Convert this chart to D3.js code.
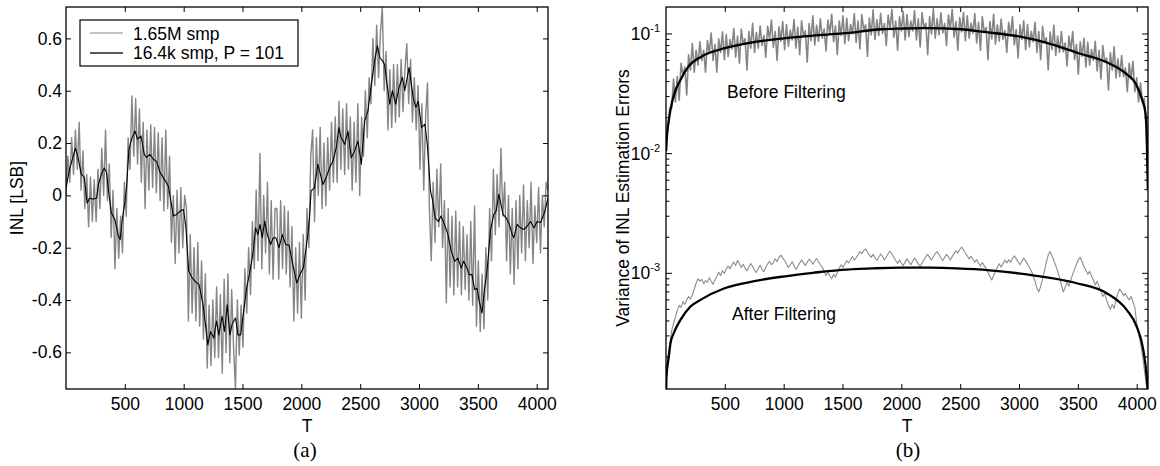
<!DOCTYPE html>
<html><head><meta charset="utf-8">
<script src="https://cdn.jsdelivr.net/npm/d3@7"></script>
<style>
body{margin:0;background:#fff;}
svg text{font-family:"Liberation Sans",Arial,sans-serif;fill:#000;}
</style></head><body>
<svg id="c" width="1160" height="466"></svg>
<script>
// ---------- data ----------
const tickT = [500,1000,1500,2000,2500,3000,3500,4000];
const inlTicks = [-0.6,-0.4,-0.2,0,0.2,0.4,0.6];
const inlTickLabels = ["-0.6","-0.4","-0.2","0","0.2","0.4","0.6"];
const varMajorTicks = [1e-3,1e-2,1e-1];
const varTickExp = ["-3","-2","-1"];
const legendLabels = ["1.65M smp","16.4k smp, P = 101"];
const panelCaptions = ["(a)","(b)"];
const sampleStep = 16; // raw curves sampled every 16 codes, T = 0..4096

// (a) INL, 1.65M samples (gray)
const inlRaw = [
 0.00,0.15,0.05,0.22,0.08,0.25,0.10,0.28,0.02,0.17,-0.05,0.08,-0.12,0.07,-0.10,0.06,
 -0.10,0.10,-0.05,0.18,0.00,0.25,-0.02,0.12,-0.16,0.02,-0.28,-0.05,-0.24,-0.08,-0.22,0.05,
 -0.08,0.22,0.10,0.38,0.15,0.37,0.12,0.33,0.05,0.28,-0.05,0.25,0.02,0.27,0.03,0.26,
 0.01,0.24,-0.02,0.22,-0.06,0.25,-0.05,0.15,-0.18,0.00,-0.26,0.02,-0.22,0.03,-0.20,0.00,
 -0.05,-0.48,-0.15,-0.45,-0.20,-0.48,-0.18,-0.50,-0.25,-0.55,-0.30,-0.66,-0.42,-0.65,-0.40,-0.62,
 -0.35,-0.62,-0.38,-0.68,-0.32,-0.60,-0.30,-0.64,-0.36,-0.58,-0.74,-0.40,-0.61,-0.42,-0.58,-0.28,
 -0.45,-0.20,-0.38,-0.10,-0.28,0.02,-0.25,0.16,-0.28,0.00,-0.22,0.05,-0.30,-0.02,-0.32,-0.05,
 -0.05,-0.32,-0.02,-0.28,-0.04,-0.30,-0.06,-0.35,-0.12,-0.48,-0.20,-0.45,-0.18,-0.47,-0.15,-0.40,
 -0.05,-0.20,0.15,0.25,-0.10,0.22,0.00,0.26,-0.05,0.20,-0.04,0.22,0.02,0.28,0.05,0.30,
 0.05,0.36,0.10,0.33,0.08,0.35,0.10,0.30,0.02,0.28,0.05,0.35,0.00,0.30,0.15,0.40,
 0.22,0.45,0.35,0.60,0.42,0.65,0.45,0.62,0.72,0.40,0.55,0.25,0.48,0.26,0.50,0.28,
 0.50,0.30,0.52,0.32,0.48,0.58,0.35,0.52,0.28,0.45,0.25,0.42,0.10,0.35,0.02,0.30,
 0.43,-0.05,-0.25,0.05,-0.18,0.10,-0.12,0.12,-0.20,-0.02,-0.41,-0.05,-0.35,-0.08,-0.38,-0.06,
 -0.35,-0.10,-0.38,-0.12,-0.36,-0.15,-0.40,-0.10,-0.42,-0.04,-0.50,-0.25,-0.52,-0.30,-0.51,-0.20,
 -0.40,-0.05,-0.25,0.10,-0.15,0.08,-0.12,0.18,-0.08,0.05,-0.25,0.00,-0.30,-0.05,-0.34,-0.02,
 -0.28,0.00,-0.22,0.04,-0.25,-0.02,-0.20,0.05,-0.26,-0.04,-0.18,0.03,-0.22,0.00,-0.12,0.05,0.02
];
// (a) INL, 16.4k samples, P = 101 (black)
const inlFiltT = [0,30,80,100,130,155,180,200,230,260,275,300,325,345,360,385,415,445,460,478,
 500,515,535,557,586,608,637,665,684,713,742,770,800,827,870,912,941,970,998,1018,
 1043,1072,1100,1129,1143,1165,1185,1205,1228,1256,1279,1299,1327,1347,1370,1393,1413,1441,1461,1484,
 1506,1535,1563,1583,1597,1611,1631,1649,1668,1688,1711,1739,1762,1784,1810,1839,1867,1895,1933,1961,
 1990,2018,2052,2069,2083,2112,2140,2169,2183,2211,2240,2268,2297,2319,2339,2368,2396,2424,2453,2481,
 2510,2538,2566,2595,2623,2646,2666,2688,2708,2728,2751,2774,2802,2830,2859,2879,2916,2950,2973,2993,
 3021,3050,3070,3098,3115,3137,3166,3186,3217,3245,3274,3303,3330,3359,3379,3407,3427,3450,3473,3493,
 3512,3535,3558,3578,3606,3635,3655,3678,3697,3714,3740,3768,3791,3805,3834,3862,3891,3919,3948,3976,
 4004,4033,4070,4096];
const inlFiltV = [0.03,0.10,0.18,0.15,0.08,0.07,-0.03,-0.01,-0.015,-0.01,0.04,0.08,0.105,0.087,0.023,-0.066,-0.092,-0.156,-0.169,-0.092,
 -0.028,0.036,0.176,0.215,0.246,0.215,0.227,0.157,0.145,0.157,0.138,0.13,0.087,0.068,0.036,-0.079,-0.073,-0.06,-0.054,-0.118,
 -0.29,-0.315,-0.33,-0.34,-0.367,-0.418,-0.494,-0.571,-0.52,-0.545,-0.48,-0.533,-0.462,-0.52,-0.418,-0.533,-0.49,-0.469,-0.533,-0.533,
 -0.456,-0.354,-0.29,-0.239,-0.188,-0.124,-0.15,-0.111,-0.162,-0.098,-0.15,-0.188,-0.162,-0.162,-0.2,-0.15,-0.188,-0.19,-0.277,-0.335,
 -0.30,-0.277,-0.162,-0.086,0.017,0.03,0.119,0.068,0.042,0.068,0.106,0.131,0.183,0.259,0.22,0.195,0.246,0.144,0.17,0.208,
 0.119,0.285,0.323,0.425,0.515,0.572,0.528,0.515,0.50,0.425,0.349,0.40,0.349,0.413,0.451,0.40,0.489,0.374,0.336,0.36,
 0.259,0.272,0.195,0.016,-0.018,-0.086,-0.10,-0.079,-0.111,-0.149,-0.213,-0.252,-0.24,-0.277,-0.252,-0.277,-0.303,-0.303,-0.36,-0.355,
 -0.405,-0.449,-0.354,-0.29,-0.137,-0.073,-0.06,0.004,-0.035,-0.073,-0.086,-0.111,-0.149,-0.162,-0.111,-0.124,-0.13,-0.118,-0.10,-0.124,
 -0.10,-0.104,-0.06,-0.01];

// (b) variance before filtering, measured (gray)
const varBeforeRaw = [
 0.014,0.016,0.024,0.024,0.042,0.027,0.044,0.028,0.057,0.045,0.053,0.031,0.067,0.050,0.083,0.048,
 0.073,0.055,0.086,0.060,0.073,0.048,0.088,0.069,0.102,0.060,0.082,0.048,0.091,0.070,0.104,0.061,
 0.099,0.065,0.090,0.075,0.111,0.064,0.096,0.057,0.110,0.082,0.091,0.050,0.105,0.076,0.123,0.070,
 0.103,0.076,0.117,0.080,0.097,0.064,0.116,0.090,0.131,0.077,0.105,0.060,0.115,0.087,0.127,0.074,
 0.120,0.079,0.108,0.089,0.132,0.076,0.114,0.067,0.129,0.096,0.106,0.058,0.122,0.088,0.142,0.081,
 0.118,0.087,0.134,0.092,0.110,0.072,0.131,0.101,0.146,0.086,0.117,0.067,0.128,0.097,0.142,0.083,
 0.135,0.088,0.120,0.100,0.148,0.085,0.128,0.075,0.145,0.108,0.119,0.065,0.136,0.098,0.159,0.090,
 0.132,0.097,0.149,0.101,0.122,0.080,0.144,0.111,0.161,0.094,0.128,0.073,0.139,0.106,0.154,0.089,
 0.145,0.095,0.128,0.106,0.156,0.089,0.134,0.078,0.151,0.112,0.123,0.067,0.140,0.100,0.162,0.092,
 0.134,0.098,0.150,0.102,0.122,0.080,0.144,0.111,0.160,0.094,0.127,0.073,0.137,0.104,0.151,0.088,
 0.142,0.092,0.123,0.101,0.148,0.084,0.125,0.073,0.140,0.103,0.113,0.061,0.127,0.091,0.146,0.082,
 0.119,0.087,0.133,0.090,0.107,0.070,0.125,0.096,0.139,0.081,0.109,0.063,0.119,0.090,0.129,0.074,
 0.120,0.078,0.105,0.086,0.125,0.070,0.105,0.061,0.116,0.085,0.093,0.050,0.104,0.074,0.118,0.066,
 0.096,0.070,0.105,0.071,0.084,0.054,0.096,0.073,0.105,0.061,0.082,0.046,0.086,0.065,0.092,0.053,
 0.085,0.055,0.074,0.060,0.087,0.049,0.073,0.042,0.080,0.058,0.063,0.034,0.070,0.050,0.078,0.043,
 0.062,0.044,0.066,0.044,0.052,0.033,0.057,0.042,0.059,0.033,0.043,0.027,0.039,0.027,0.029,0.016,0.005
];
// (b) variance after filtering, measured (gray)
const varAfterRaw = [
 1.2e-4,2.0e-4,2.6e-4,3.3e-4,3.8e-4,4.3e-4,4.9e-4,5.4e-4,5.2e-4,5.8e-4,5.5e-4,6.0e-4,6.4e-4,6.1e-4,6.6e-4,7.4e-4,
 8.3e-4,9.0e-4,8.6e-4,8.9e-4,8.2e-4,8.7e-4,8.4e-4,9.2e-4,8.6e-4,8.1e-4,8.8e-4,9.4e-4,10.2e-4,9.6e-4,10.5e-4,10.0e-4,
 10.8e-4,11.5e-4,10.9e-4,11.8e-4,12.4e-4,11.6e-4,12.8e-4,12.0e-4,11.2e-4,11.9e-4,11.0e-4,10.5e-4,11.3e-4,12.1e-4,11.4e-4,10.6e-4,
 10.2e-4,11.0e-4,11.7e-4,10.8e-4,10.3e-4,11.2e-4,12.0e-4,12.6e-4,11.8e-4,12.3e-4,13.2e-4,12.5e-4,13.6e-4,14.2e-4,13.4e-4,12.8e-4,
 12.0e-4,11.2e-4,11.8e-4,12.5e-4,11.6e-4,10.8e-4,11.4e-4,12.2e-4,12.9e-4,12.3e-4,11.6e-4,12.4e-4,13.1e-4,12.6e-4,11.9e-4,12.7e-4,
 13.3e-4,12.5e-4,11.8e-4,11.2e-4,10.4e-4,9.6e-4,10.3e-4,9.5e-4,9.0e-4,9.8e-4,9.3e-4,10.2e-4,11.0e-4,11.8e-4,11.2e-4,12.0e-4,
 12.8e-4,12.2e-4,13.0e-4,13.8e-4,12.9e-4,13.5e-4,14.3e-4,15.2e-4,14.6e-4,15.5e-4,16.0e-4,15.0e-4,14.2e-4,13.6e-4,14.4e-4,13.5e-4,
 12.8e-4,13.6e-4,14.5e-4,13.8e-4,12.9e-4,13.7e-4,14.6e-4,15.3e-4,14.5e-4,13.6e-4,12.8e-4,12.1e-4,12.9e-4,12.2e-4,11.6e-4,12.4e-4,
 13.2e-4,12.5e-4,11.8e-4,12.6e-4,13.4e-4,12.7e-4,12.0e-4,11.4e-4,12.2e-4,13.0e-4,13.8e-4,14.4e-4,13.6e-4,12.9e-4,13.7e-4,14.6e-4,
 15.2e-4,14.3e-4,13.5e-4,12.8e-4,13.6e-4,14.4e-4,13.7e-4,12.9e-4,13.8e-4,14.6e-4,15.4e-4,14.8e-4,15.8e-4,16.6e-4,15.7e-4,14.8e-4,
 14.0e-4,13.2e-4,13.9e-4,13.1e-4,12.4e-4,13.0e-4,12.2e-4,11.5e-4,12.3e-4,11.6e-4,11.0e-4,10.2e-4,9.4e-4,8.8e-4,9.6e-4,10.4e-4,
 11.2e-4,12.0e-4,11.3e-4,12.1e-4,12.9e-4,12.2e-4,13.0e-4,12.4e-4,13.3e-4,14.0e-4,13.2e-4,12.5e-4,11.8e-4,12.6e-4,13.4e-4,12.7e-4,
 12.0e-4,11.2e-4,10.5e-4,9.6e-4,8.6e-4,7.5e-4,7.0e-4,7.8e-4,9.0e-4,10.5e-4,12.4e-4,14.2e-4,15.2e-4,14.0e-4,12.8e-4,11.6e-4,
 10.4e-4,9.2e-4,8.0e-4,7.0e-4,7.6e-4,8.4e-4,7.8e-4,8.8e-4,9.8e-4,10.8e-4,11.9e-4,13.0e-4,13.6e-4,12.5e-4,11.4e-4,10.6e-4,
 9.8e-4,10.4e-4,9.5e-4,8.8e-4,8.0e-4,8.6e-4,7.8e-4,7.0e-4,6.4e-4,6.8e-4,6.0e-4,5.4e-4,5.0e-4,5.5e-4,5.1e-4,6.0e-4,
 6.8e-4,7.4e-4,7.0e-4,6.5e-4,6.8e-4,6.3e-4,6.0e-4,6.4e-4,5.8e-4,5.2e-4,3.8e-4,3.2e-4,2.6e-4,2.1e-4,1.6e-4,1.2e-4,1.0e-4
];
// (b) theoretical variance (black)
const varBeforeT = [1,10,24,38,72,123,190,300,500,722,1000,1250,1500,1832,2000,2200,2512,2683,3010,3251,3507,3763,3904,3990,4047,4075,4085,4095];
const varBeforeV = [0.0105,0.0148,0.019,0.0232,0.032,0.0413,0.0533,0.0646,0.076,0.0847,0.092,0.097,0.101,0.1095,0.111,0.112,0.1095,0.1045,0.095,0.0836,0.069,0.0569,0.047,0.0387,0.0281,0.0217,0.0148,0.005];
const varAfterT = [1,4,24,38,66,123,208,293,497,750,995,1250,1492,1750,1990,2250,2472,2750,2995,3250,3491,3745,3915,4000,4056,4085,4095];
const varAfterV = [1.0e-4,1.37e-4,2.01e-4,2.6e-4,3.16e-4,4.08e-4,5.28e-4,6.0e-4,7.5e-4,8.6e-4,9.4e-4,1.01e-3,1.07e-3,1.10e-3,1.116e-3,1.115e-3,1.10e-3,1.06e-3,1.0e-3,9.2e-4,8.26e-4,6.82e-4,4.95e-4,3.59e-4,2.29e-4,1.37e-4,1.0e-4];
const annotations = ["Before Filtering","After Filtering"];

// ---------- drawing ----------
const FS = 17.5;
const svg = d3.select("#c");
const plotTop = 7, plotBottom = 389;
const sampleT = d3.range(0, 4096 + 1, sampleStep);

function frame(left, right, id){
  const g = svg.append("g");
  svg.append("clipPath").attr("id", id).append("rect")
    .attr("x", left).attr("y", plotTop).attr("width", right-left).attr("height", plotBottom-plotTop);
  return g;
}

function xAxes(g, x){
  g.append("g").attr("transform",`translate(0,${plotBottom})`)
    .call(d3.axisBottom(x).tickValues(tickT).tickSize(-5).tickPadding(9).tickFormat(d3.format("d")))
    .call(s=>{s.select(".domain").remove(); s.selectAll("text").attr("font-size",FS).attr("font-family","Liberation Sans, Arial");});
  g.append("g").attr("transform",`translate(0,${plotTop})`)
    .call(d3.axisTop(x).tickValues(tickT).tickSize(-5).tickFormat(""))
    .call(s=>s.select(".domain").remove());
}

// ----- panel (a)
const xa = d3.scaleLinear().domain([0,4096]).range([66,548]);
const ya = d3.scaleLinear().domain([-0.74,0.72]).range([plotBottom,plotTop]);
const ga = frame(66,548,"clipA");
const lineA = d3.line().x(d=>xa(d[0])).y(d=>ya(d[1]));
ga.append("path").attr("clip-path","url(#clipA)")
  .attr("d", lineA(d3.zip(sampleT, inlRaw)))
  .attr("fill","none").attr("stroke","#858585").attr("stroke-width",1.4).attr("stroke-linejoin","round");
ga.append("path").attr("clip-path","url(#clipA)")
  .attr("d", lineA(d3.zip(inlFiltT, inlFiltV)))
  .attr("fill","none").attr("stroke","#000").attr("stroke-width",1.1).attr("stroke-linejoin","round");
xAxes(ga, xa);
ga.append("g").attr("transform","translate(66,0)")
  .call(d3.axisLeft(ya).tickValues(inlTicks).tickSize(-5).tickPadding(4).tickFormat((d,i)=>inlTickLabels[i]))
  .call(s=>{s.select(".domain").remove(); s.selectAll("text").attr("font-size",FS).attr("font-family","Liberation Sans, Arial");});
ga.append("g").attr("transform","translate(548,0)")
  .call(d3.axisRight(ya).tickValues(inlTicks).tickSize(-5).tickFormat(""))
  .call(s=>s.select(".domain").remove());
ga.append("rect").attr("x",66).attr("y",plotTop).attr("width",482).attr("height",plotBottom-plotTop)
  .attr("fill","none").attr("stroke","#000").attr("stroke-width",1.3);
// legend
const lg = ga.append("g");
lg.append("rect").attr("x",80).attr("y",20).attr("width",218).attr("height",46)
  .attr("fill","#fff").attr("stroke","#000").attr("stroke-width",1.2);
lg.append("line").attr("x1",90).attr("x2",123).attr("y1",33).attr("y2",33).attr("stroke","#858585").attr("stroke-width",1.2);
lg.append("line").attr("x1",90).attr("x2",123).attr("y1",53).attr("y2",53).attr("stroke","#222").attr("stroke-width",1.5);
lg.append("text").attr("x",133).attr("y",39.5).attr("font-size",FS).text(legendLabels[0]);
lg.append("text").attr("x",133).attr("y",58.5).attr("font-size",FS).text(legendLabels[1]);
// labels
ga.append("text").attr("x",307).attr("y",432).attr("text-anchor","middle").attr("font-size",FS).text("T");
ga.append("text").attr("transform","translate(23,198) rotate(-90)").attr("text-anchor","middle").attr("font-size",FS).text("INL [LSB]");
ga.append("text").attr("x",305).attr("y",457).attr("text-anchor","middle").attr("font-size",21)
  .style("font-family","'Liberation Serif','Times New Roman',serif").text(panelCaptions[0]);

// ----- panel (b)
const xb = d3.scaleLinear().domain([0,4096]).range([666,1148]);
const yb = d3.scaleLog().domain([1.08e-4,0.168]).range([plotBottom,plotTop]);
const gb = frame(666,1148,"clipB");
const lineB = d3.line().x(d=>xb(d[0])).y(d=>yb(d[1]));
const lineBs = d3.line().x(d=>xb(d[0])).y(d=>yb(d[1])).curve(d3.curveMonotoneX);
gb.append("path").attr("clip-path","url(#clipB)")
  .attr("d", lineB(d3.zip(sampleT, varBeforeRaw)))
  .attr("fill","none").attr("stroke","#858585").attr("stroke-width",1.6).attr("stroke-linejoin","round");
gb.append("path").attr("clip-path","url(#clipB)")
  .attr("d", lineB(d3.zip(sampleT, varAfterRaw)))
  .attr("fill","none").attr("stroke","#8c8c8c").attr("stroke-width",1.1).attr("stroke-linejoin","round");
gb.append("path").attr("clip-path","url(#clipB)")
  .attr("d", lineBs(d3.zip(varBeforeT, varBeforeV)))
  .attr("fill","none").attr("stroke","#000").attr("stroke-width",2.3);
gb.append("path").attr("clip-path","url(#clipB)")
  .attr("d", lineBs(d3.zip(varAfterT, varAfterV)))
  .attr("fill","none").attr("stroke","#000").attr("stroke-width",2.3);
xAxes(gb, xb);
const allLogTicks = yb.ticks().filter(v=>v>=yb.domain()[0] && v<=yb.domain()[1]);
const minorTicks = allLogTicks.filter(v=>!varMajorTicks.some(m=>Math.abs(m-v)/m<1e-6));
[[666,1],[1148,-1]].forEach(([x0,dir])=>{
  gb.selectAll(null).data(varMajorTicks).enter().append("line")
    .attr("x1",x0).attr("x2",x0+dir*6).attr("y1",d=>yb(d)).attr("y2",d=>yb(d)).attr("stroke","#000");
  gb.selectAll(null).data(minorTicks).enter().append("line")
    .attr("x1",x0).attr("x2",x0+dir*3.5).attr("y1",d=>yb(d)).attr("y2",d=>yb(d)).attr("stroke","#000");
});
varMajorTicks.forEach((v,i)=>{
  const t = gb.append("text").attr("x",660).attr("y",yb(v)+6).attr("text-anchor","end").attr("font-size",FS);
  t.append("tspan").text("10");
  t.append("tspan").attr("dy",-8).attr("font-size",11).text(varTickExp[i]);
});
gb.append("rect").attr("x",666).attr("y",plotTop).attr("width",482).attr("height",plotBottom-plotTop)
  .attr("fill","none").attr("stroke","#000").attr("stroke-width",1.3);
gb.append("text").attr("x",727).attr("y",98).attr("font-size",FS).text(annotations[0]);
gb.append("text").attr("x",732).attr("y",320).attr("font-size",FS).text(annotations[1]);
gb.append("text").attr("x",907).attr("y",432).attr("text-anchor","middle").attr("font-size",FS).text("T");
gb.append("text").attr("transform","translate(629,198) rotate(-90)").attr("text-anchor","middle").attr("font-size",FS)
  .text("Variance of INL Estimation Errors");
gb.append("text").attr("x",908).attr("y",457).attr("text-anchor","middle").attr("font-size",21)
  .style("font-family","'Liberation Serif','Times New Roman',serif").text(panelCaptions[1]);
</script>
</body></html>
